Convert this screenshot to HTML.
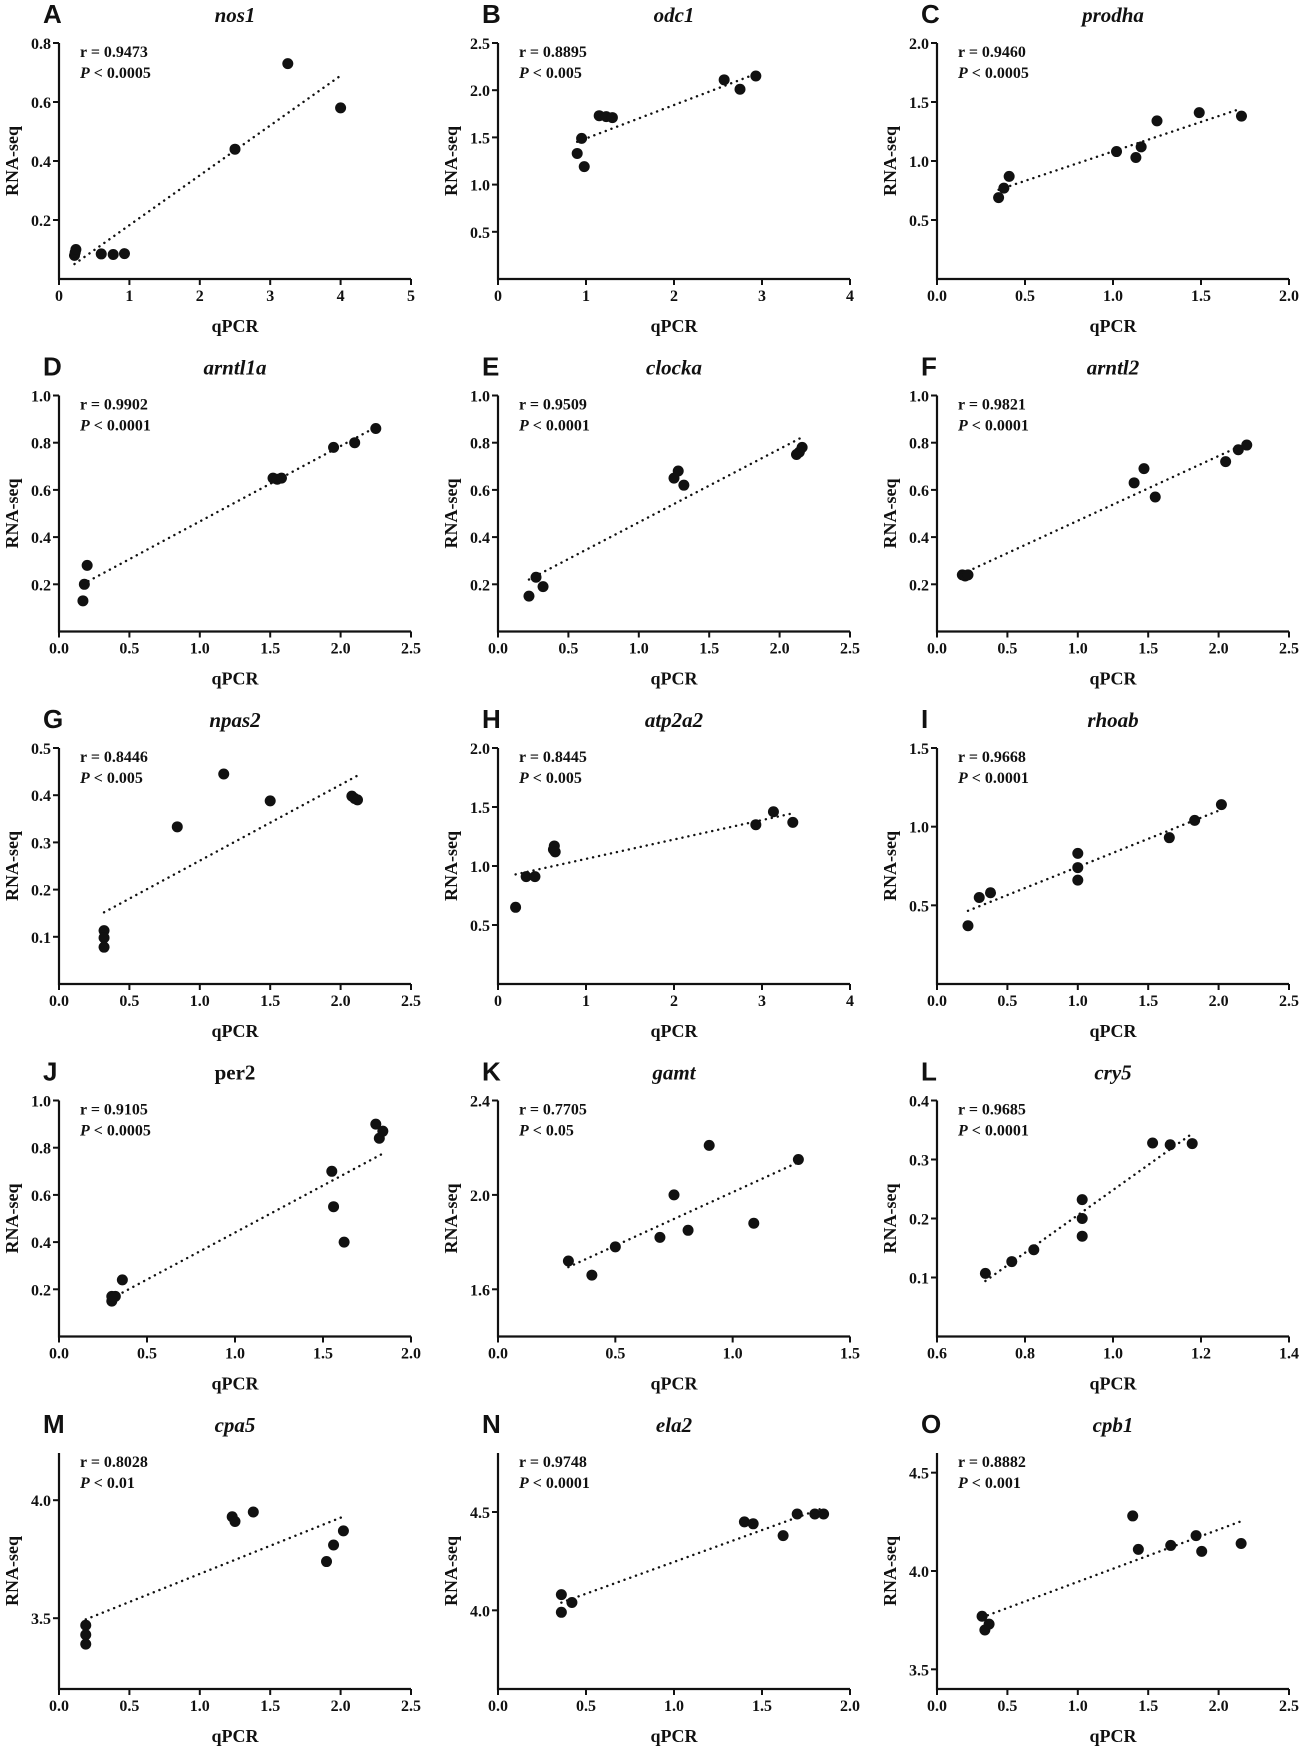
<!DOCTYPE html>
<html><head><meta charset="utf-8"><style>
html,body{margin:0;padding:0;background:#fff}
svg{display:block}
text{font-family:"Liberation Serif",serif;font-weight:bold;fill:#111}
</style></head><body>
<svg id="fig" width="1299" height="1746" viewBox="0 0 1299 1746" xmlns="http://www.w3.org/2000/svg"></svg>
<script>
// ---- data ----
const letters = ["A","B","C","D","E","F","G","H","I","J","K","L","M","N","O"];
const genes = ["nos1","odc1","prodha","arntl1a","clocka","arntl2","npas2","atp2a2","rhoab","per2","gamt","cry5","cpa5","ela2","cpb1"];
const italicTitle = [1,1,1,1,1,1,1,1,1,0,1,1,1,1,1];
const rValues = ["0.9473","0.8895","0.9460","0.9902","0.9509","0.9821","0.8446","0.8445","0.9668","0.9105","0.7705","0.9685","0.8028","0.9748","0.8882"];
const pValues = ["0.0005","0.005","0.0005","0.0001","0.0001","0.0001","0.005","0.005","0.0001","0.0005","0.05","0.0001","0.01","0.0001","0.001"];
const xDomains = [[0,5],[0,4],[0,2],[0,2.5],[0,2.5],[0,2.5],[0,2.5],[0,4],[0,2.5],[0,2],[0,1.5],[0.6,1.4],[0,2.5],[0,2],[0,2.5]];
const yDomains = [[0,0.8],[0,2.5],[0,2],[0,1],[0,1],[0,1],[0,0.5],[0,2],[0,1.5],[0,1],[1.4,2.4],[0,0.4],[3.2,4.2],[3.6,4.8],[3.4,4.6]];
const xTicks = [
 ["0","1","2","3","4","5"],["0","1","2","3","4"],["0.0","0.5","1.0","1.5","2.0"],
 ["0.0","0.5","1.0","1.5","2.0","2.5"],["0.0","0.5","1.0","1.5","2.0","2.5"],["0.0","0.5","1.0","1.5","2.0","2.5"],
 ["0.0","0.5","1.0","1.5","2.0","2.5"],["0","1","2","3","4"],["0.0","0.5","1.0","1.5","2.0","2.5"],
 ["0.0","0.5","1.0","1.5","2.0"],["0.0","0.5","1.0","1.5"],["0.6","0.8","1.0","1.2","1.4"],
 ["0.0","0.5","1.0","1.5","2.0","2.5"],["0.0","0.5","1.0","1.5","2.0"],["0.0","0.5","1.0","1.5","2.0","2.5"]];
const yTicks = [
 ["0.2","0.4","0.6","0.8"],["0.5","1.0","1.5","2.0","2.5"],["0.5","1.0","1.5","2.0"],
 ["0.2","0.4","0.6","0.8","1.0"],["0.2","0.4","0.6","0.8","1.0"],["0.2","0.4","0.6","0.8","1.0"],
 ["0.1","0.2","0.3","0.4","0.5"],["0.5","1.0","1.5","2.0"],["0.5","1.0","1.5"],
 ["0.2","0.4","0.6","0.8","1.0"],["1.6","2.0","2.4"],["0.1","0.2","0.3","0.4"],
 ["3.5","4.0"],["4.0","4.5"],["3.5","4.0","4.5"]];
const xVals = [
 [0.22,0.23,0.24,0.6,0.77,0.93,2.5,3.25,4.0],
 [0.9,0.95,0.98,1.15,1.23,1.3,2.57,2.75,2.93],
 [0.35,0.38,0.41,1.02,1.13,1.16,1.25,1.49,1.73],
 [0.17,0.18,0.2,1.52,1.55,1.58,1.95,2.1,2.25],
 [0.22,0.27,0.32,1.25,1.28,1.32,2.12,2.14,2.16],
 [0.18,0.2,0.22,1.4,1.47,1.55,2.05,2.14,2.2],
 [0.32,0.32,0.32,0.84,1.17,1.5,2.08,2.1,2.12],
 [0.2,0.32,0.42,0.63,0.64,0.65,2.93,3.13,3.35],
 [0.22,0.3,0.38,1.0,1.0,1.0,1.65,1.83,2.02],
 [0.3,0.3,0.32,0.36,1.55,1.56,1.62,1.8,1.82,1.84],
 [0.3,0.4,0.5,0.69,0.75,0.81,0.9,1.09,1.28],
 [0.71,0.77,0.82,0.93,0.93,0.93,1.09,1.13,1.18],
 [0.19,0.19,0.19,1.23,1.25,1.38,1.9,1.95,2.02],
 [0.36,0.36,0.42,1.4,1.45,1.62,1.7,1.8,1.85],
 [0.32,0.34,0.37,1.39,1.43,1.66,1.84,1.88,2.16]];
const yVals = [
 [0.08,0.09,0.1,0.085,0.083,0.086,0.44,0.73,0.58],
 [1.33,1.49,1.19,1.73,1.72,1.71,2.11,2.01,2.15],
 [0.69,0.77,0.87,1.08,1.03,1.12,1.34,1.41,1.38],
 [0.13,0.2,0.28,0.65,0.645,0.65,0.78,0.8,0.86],
 [0.15,0.23,0.19,0.65,0.68,0.62,0.75,0.76,0.78],
 [0.24,0.235,0.24,0.63,0.69,0.57,0.72,0.77,0.79],
 [0.113,0.098,0.078,0.333,0.445,0.388,0.398,0.393,0.39],
 [0.65,0.91,0.91,1.14,1.17,1.12,1.35,1.46,1.37],
 [0.37,0.55,0.58,0.66,0.74,0.83,0.93,1.04,1.14],
 [0.15,0.17,0.17,0.24,0.7,0.55,0.4,0.9,0.84,0.87],
 [1.72,1.66,1.78,1.82,2.0,1.85,2.21,1.88,2.15],
 [0.107,0.127,0.147,0.232,0.2,0.17,0.328,0.325,0.327],
 [3.47,3.43,3.39,3.93,3.91,3.95,3.74,3.81,3.87],
 [4.08,3.99,4.04,4.45,4.44,4.38,4.49,4.49,4.49],
 [3.77,3.7,3.73,4.28,4.11,4.13,4.18,4.1,4.14]];

// ---- drawing ----
const NS="http://www.w3.org/2000/svg";
const svg=document.getElementById('fig');
function mk(tag,attrs,parent){const e=document.createElementNS(NS,tag);for(const k in attrs)e.setAttribute(k,attrs[k]);(parent||svg).appendChild(e);return e;}
const W=352,H=236;
for(let i=0;i<15;i++){
  const col=i%3,row=Math.floor(i/3);
  const x0=59+439*col, y0=279+352.5*row;
  const g=mk('g',{});
  
  
  const [xa,xb]=xDomains[i],[ya,yb]=yDomains[i];
  const sx=v=>x0+(v-xa)/(xb-xa)*W;
  const sy=v=>y0-(v-ya)/(yb-ya)*H;
  // letter
  const L=mk('text',{x:x0-16,y:y0-256,'font-size':26,style:'font-family:"Liberation Sans",sans-serif;font-weight:bold'},g);
  L.textContent=letters[i];
  
  
  const T=mk('text',{x:x0+W/2,y:y0-257,'font-size':21,'text-anchor':'middle','font-style':italicTitle[i]?'italic':'normal'},g);
  T.textContent=genes[i];
  
  
  // axes
  const ax=mk('path',{d:`M${x0},${y0-H} V${y0} H${x0+W}`,fill:'none',stroke:'#111','stroke-width':2.2},g);
  
  
  xTicks[i].forEach(t=>{const px=sx(parseFloat(t));
    mk('line',{x1:px,x2:px,y1:y0,y2:y0+6,stroke:'#111','stroke-width':2},g);
    const tx=mk('text',{x:px,y:y0+22,'font-size':16,'text-anchor':'middle'},g);tx.textContent=t;
    
    });
  yTicks[i].forEach(t=>{const py=sy(parseFloat(t));
    mk('line',{x1:x0-6,x2:x0,y1:py,y2:py,stroke:'#111','stroke-width':2},g);
    const ty=mk('text',{x:x0-8,y:py+6,'font-size':16,'text-anchor':'end'},g);ty.textContent=t;
    
    });
  const xl=mk('text',{x:x0+W/2,y:y0+53,'font-size':18,'text-anchor':'middle'},g);xl.textContent='qPCR';
  
  
  const yl=mk('text',{x:0,y:0,'font-size':18,'text-anchor':'middle',transform:`translate(${x0-41},${y0-H/2}) rotate(-90)`},g);yl.textContent='RNA-seq';
  
  
  // stats
  const r=mk('text',{x:x0+21,y:y0-222,'font-size':16},g);r.textContent='r = '+rValues[i];
  
  
  const p=mk('text',{x:x0+21,y:y0-201,'font-size':16},g);
  p.innerHTML='<tspan font-style="italic">P</tspan> &lt; '+pValues[i];
  
  
  // regression
  const xs=xVals[i],ys=yVals[i],n=xs.length;
  const mx=xs.reduce((a,b)=>a+b)/n,my=ys.reduce((a,b)=>a+b)/n;
  let sxy=0,sxx=0;for(let k=0;k<n;k++){sxy+=(xs[k]-mx)*(ys[k]-my);sxx+=(xs[k]-mx)**2;}
  const b=sxy/sxx,a=my-b*mx,xmin=Math.min(...xs),xmax=Math.max(...xs);
  const fl=mk('line',{x1:sx(xmin),y1:sy(a+b*xmin),x2:sx(xmax),y2:sy(a+b*xmax),stroke:'#111','stroke-width':2.4,'stroke-dasharray':'0.1 6','stroke-linecap':'round'},g);
  
  
  for(let k=0;k<n;k++){
    const c=mk('circle',{cx:sx(xs[k]),cy:sy(ys[k]),r:5.5,fill:'#111'},g);
    
    
  }
}
</script>
</body></html>
